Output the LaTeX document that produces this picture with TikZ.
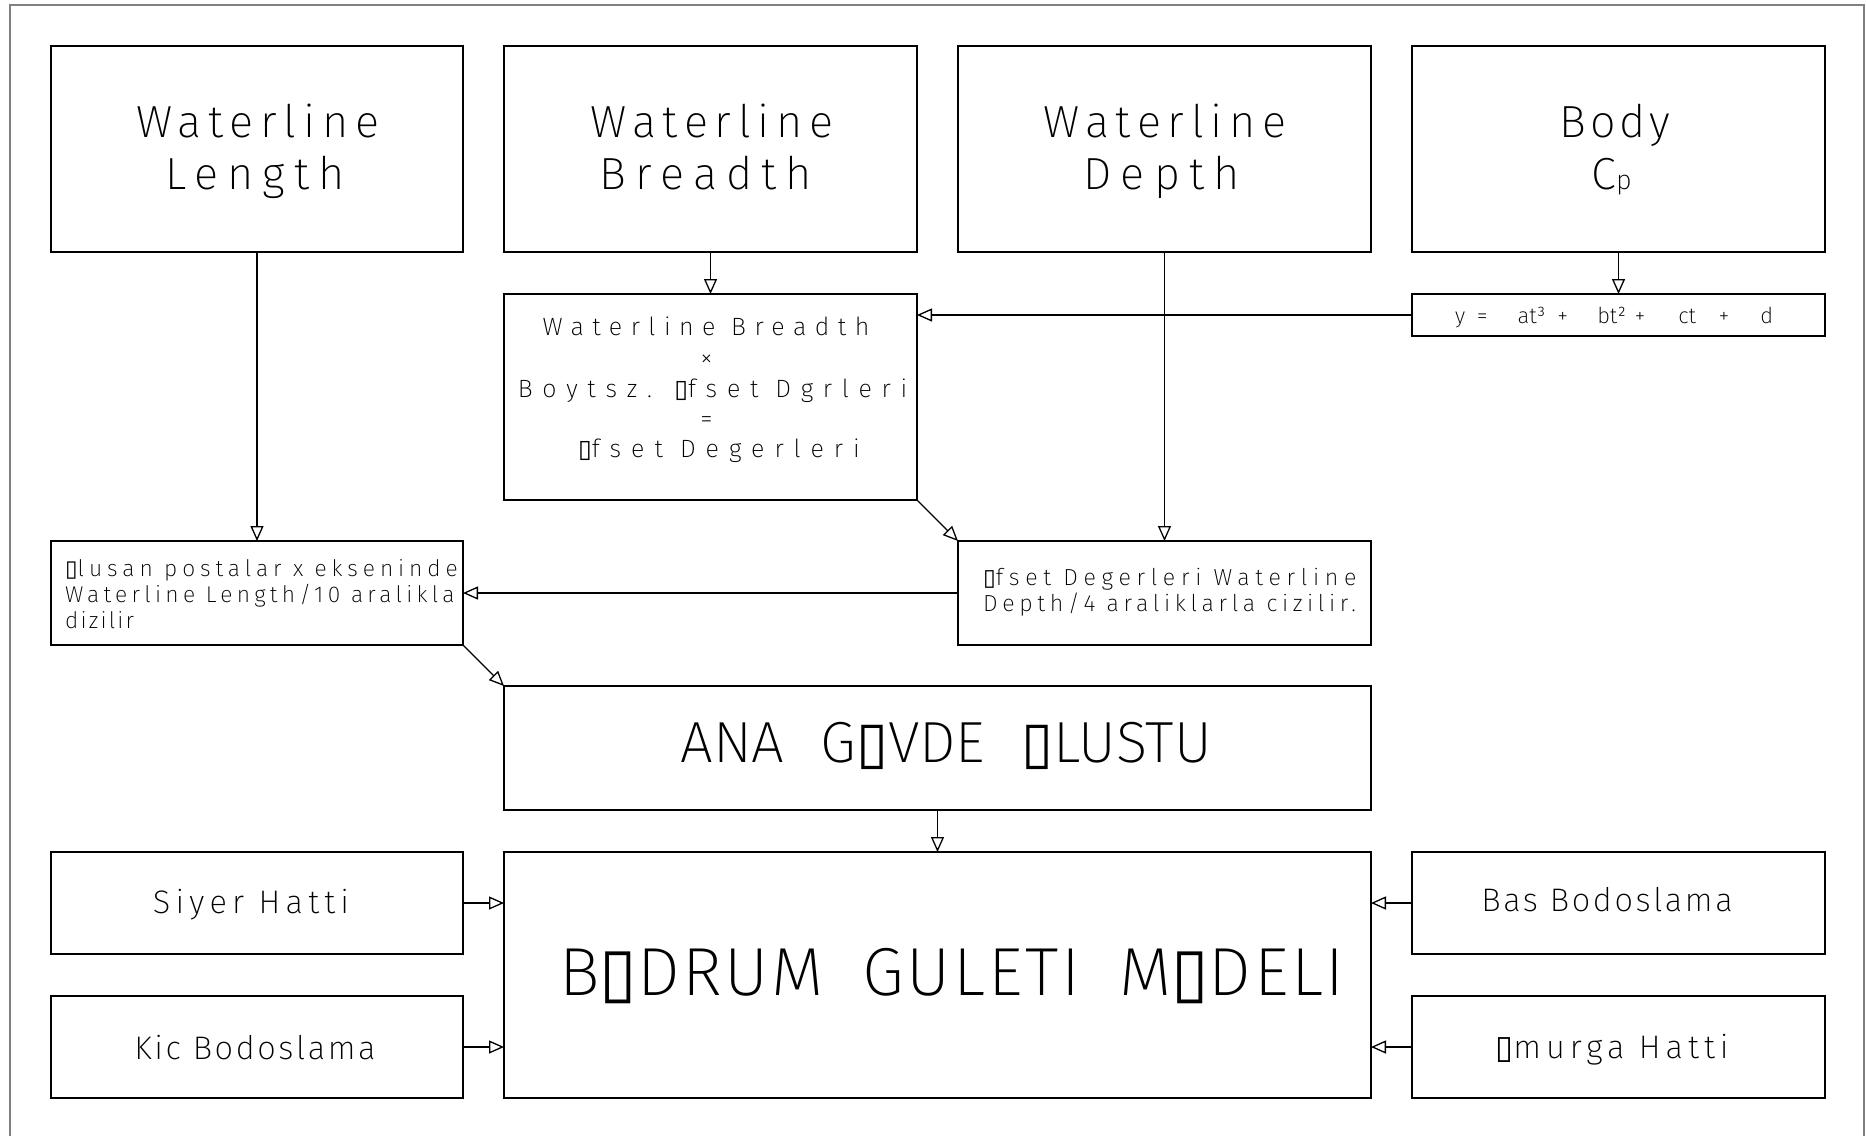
\documentclass[tikz,border=0pt]{standalone}
\usepackage{fontspec}
\usetikzlibrary{arrows.meta}
\IfFontExistsTF{Fira Sans ExtraLight}{\def\cadname{Fira Sans ExtraLight}\def\cadcol{black}}{%
  \IfFontExistsTF{Fira Sans Light}{\def\cadname{Fira Sans Light}\def\cadcol{black}}{%
    \def\cadname{Fira Sans}\def\cadcol{black!75}}}
\newfontfamily\symf{DejaVu Sans}
\newcommand\tofu{{\symf ▯}}
\newfontfamily\fbigA{\cadname}[LetterSpace=15]
\newfontfamily\fbigB{\cadname}[LetterSpace=20.5]
\newfontfamily\fbigC{\cadname}[LetterSpace=9]
\newfontfamily\fmidA{\cadname}[LetterSpace=34]
\newfontfamily\fmidB{\cadname}[LetterSpace=39]
\newfontfamily\fmidC{\cadname}[LetterSpace=40]
\newfontfamily\foluA{\cadname}[LetterSpace=21.6]
\newfontfamily\foluB{\cadname}[LetterSpace=18.8]
\newfontfamily\foluC{\cadname}[LetterSpace=9.6]
\newfontfamily\fofsA{\cadname}[LetterSpace=24.5]
\newfontfamily\fofsB{\cadname}[LetterSpace=20]
\newfontfamily\fbotA{\cadname}[LetterSpace=16]
\newfontfamily\fbotB{\cadname}[LetterSpace=8]
\newfontfamily\fbotC{\cadname}[LetterSpace=15.5]
\newfontfamily\fbgm{\cadname}[LetterSpace=4]
\newfontfamily\fplain{\cadname}
\tikzset{
  bx/.style={draw=black, line width=1.3pt, inner sep=0pt, outer sep=0pt},
  arr/.style={line width=1.3pt, -{Triangle[open,length=15pt,width=13pt]}},
  txt/.style={inner sep=0pt, anchor=base, text=\cadcol},
  big/.style={font=\fontsize{45}{52}\selectfont},
  mid/.style={font=\fontsize{25}{30}\selectfont},
  olu/.style={anchor=base west, font=\fontsize{22.8}{26}\selectfont},
  ofs/.style={anchor=base west, font=\fontsize{23.2}{26}\selectfont},
  bot/.style={font=\fontsize{32.6}{36}\selectfont},
  tsm/.style={txt, font=\fplain\fontsize{22}{26}\selectfont},
  tana/.style={txt, font=\fplain\fontsize{58}{60}\selectfont},
  tbgm/.style={txt, font=\fbgm\fontsize{68}{70}\selectfont},
  frm/.style={draw=black!50, line width=2pt}
}
\begin{document}
\begin{tikzpicture}[x=1pt,y=-1pt]
\fill[white] (0,0) rectangle (1866,1136);
\useasboundingbox (0,0) rectangle (1866,1136);
\draw[frm] (9.5,1136) -- (9.5,5) -- (1864,5) -- (1864,1136);
% boxes
\node[bx, minimum width=412pt, minimum height=206pt] (wl) at (257,149) {};
\node[bx, minimum width=413pt, minimum height=206pt] (wb) at (710.5,149) {};
\node[bx, minimum width=413pt, minimum height=206pt] (wd) at (1164.5,149) {};
\node[bx, minimum width=413pt, minimum height=206pt] (bc) at (1618.5,149) {};
\node[bx, minimum width=413pt, minimum height=206pt] (fb) at (710.5,397) {};
\node[bx, minimum width=413pt, minimum height=42pt] (fy) at (1618.5,315) {};
\node[bx, minimum width=412pt, minimum height=104pt] (ol) at (257,593) {};
\node[bx, minimum width=413pt, minimum height=104pt] (od) at (1164.5,593) {};
\node[bx, minimum width=867pt, minimum height=124pt] (ana) at (937.5,748) {};
\node[bx, minimum width=867pt, minimum height=246pt] (bgm) at (937.5,975) {};
\node[bx, minimum width=412pt, minimum height=102pt] (si) at (257,903) {};
\node[bx, minimum width=412pt, minimum height=102pt] (ki) at (257,1047) {};
\node[bx, minimum width=413pt, minimum height=102pt] (ba) at (1618.5,903) {};
\node[bx, minimum width=413pt, minimum height=102pt] (om) at (1618.5,1047) {};
% texts
\node[txt, big] (wl1) at (257.6,137) {\fbigA Waterline};
\node[txt, big] (wl2) at (255,189) {\fbigB Length};
\node[txt, big] (wb1) at (712,137) {\fbigA Waterline};
\node[txt, big] (wb2) at (706,189) {\fbigB Breadth};
\node[txt, big] (wd1) at (1165,137) {\fbigA Waterline};
\node[txt, big] (wd2) at (1161.5,189) {\fbigB Depth};
\node[txt, big] (bc1) at (1615,137) {\fbigC Body};
\node[txt, big] (bc2) at (1611.5,189) {\fbigC C{\fontsize{27}{27}\selectfont p}};
\node[txt, mid] (fb1) at (706,335) {\fmidA Waterline Breadth};
\node[txt, mid] (fb2) at (706.5,366) {\fmidA ×};
\node[txt, mid] (fb3) at (712.5,397) {\fmidB Boytsz. \tofu{}fset Dgrleri};
\node[txt, mid] (fb4) at (706.5,427) {\fmidA =};
\node[txt, mid] (fb5) at (719,457) {\fmidC \tofu{}fset Degerleri};
\node[tsm, anchor=base west] (fy1) at (1455,323) {y\hspace{11.5pt}=\hspace{30pt}at³\hspace{12pt}+\hspace{29pt}bt²\hspace{8.5pt}+\hspace{33pt}ct\hspace{22.5pt}+\hspace{31pt}d};
\node[txt, olu] (ol1) at (65,576.3) {\foluA\tofu{}lusan postalar x ekseninde};
\node[txt, olu] (ol2) at (65,602.7) {\foluB Waterline Length/10 aralikla};
\node[txt, olu] (ol3) at (65,628) {\foluC dizilir};
\node[txt, ofs] (od1) at (983,585) {\fofsA\tofu{}fset Degerleri Waterline};
\node[txt, ofs] (od2) at (983,611.7) {\fofsB Depth/4 araliklarla cizilir.};
\node[tana] (ana1) at (946,762) {ANA\hspace{36pt}G\tofu{}VDE\hspace{36pt}\tofu{}LUSTU};
\node[tbgm] (bgm1) at (952,995) {B\tofu{}DRUM\hspace{39pt}GULETI\hspace{39pt}M\tofu{}DELI};
\node[txt, bot] (si1) at (251,913) {\fbotA Siyer Hatti};
\node[txt, bot] (ki1) at (255,1059) {\fbotB Kic Bodoslama};
\node[txt, bot] (ba1) at (1607,911) {\fbotB Bas Bodoslama};
\node[txt, bot] (om1) at (1612,1058.5) {\fbotC\tofu{}murga Hatti};
% connectors
\draw[arr] (wl.south) -- (ol.north);
\draw[arr] (wb.south) -- (fb.north);
\draw[arr] (wd.south) -- (od.north);
\draw[arr] (bc.south) -- (fy.north);
\draw[arr] (fy.west) -- (fy.west -| fb.east);
\draw[arr] (fb.south east) -- (od.north west);
\draw[arr] (od.west) -- (ol.east);
\draw[arr] (ol.south east) -- (ana.north west);
\draw[arr] (ana.south) -- (bgm.north);
\draw[arr] (si.east) -- (si.east -| bgm.west);
\draw[arr] (ki.east) -- (ki.east -| bgm.west);
\draw[arr] (ba.west) -- (ba.west -| bgm.east);
\draw[arr] (om.west) -- (om.west -| bgm.east);
\end{tikzpicture}
\end{document}
